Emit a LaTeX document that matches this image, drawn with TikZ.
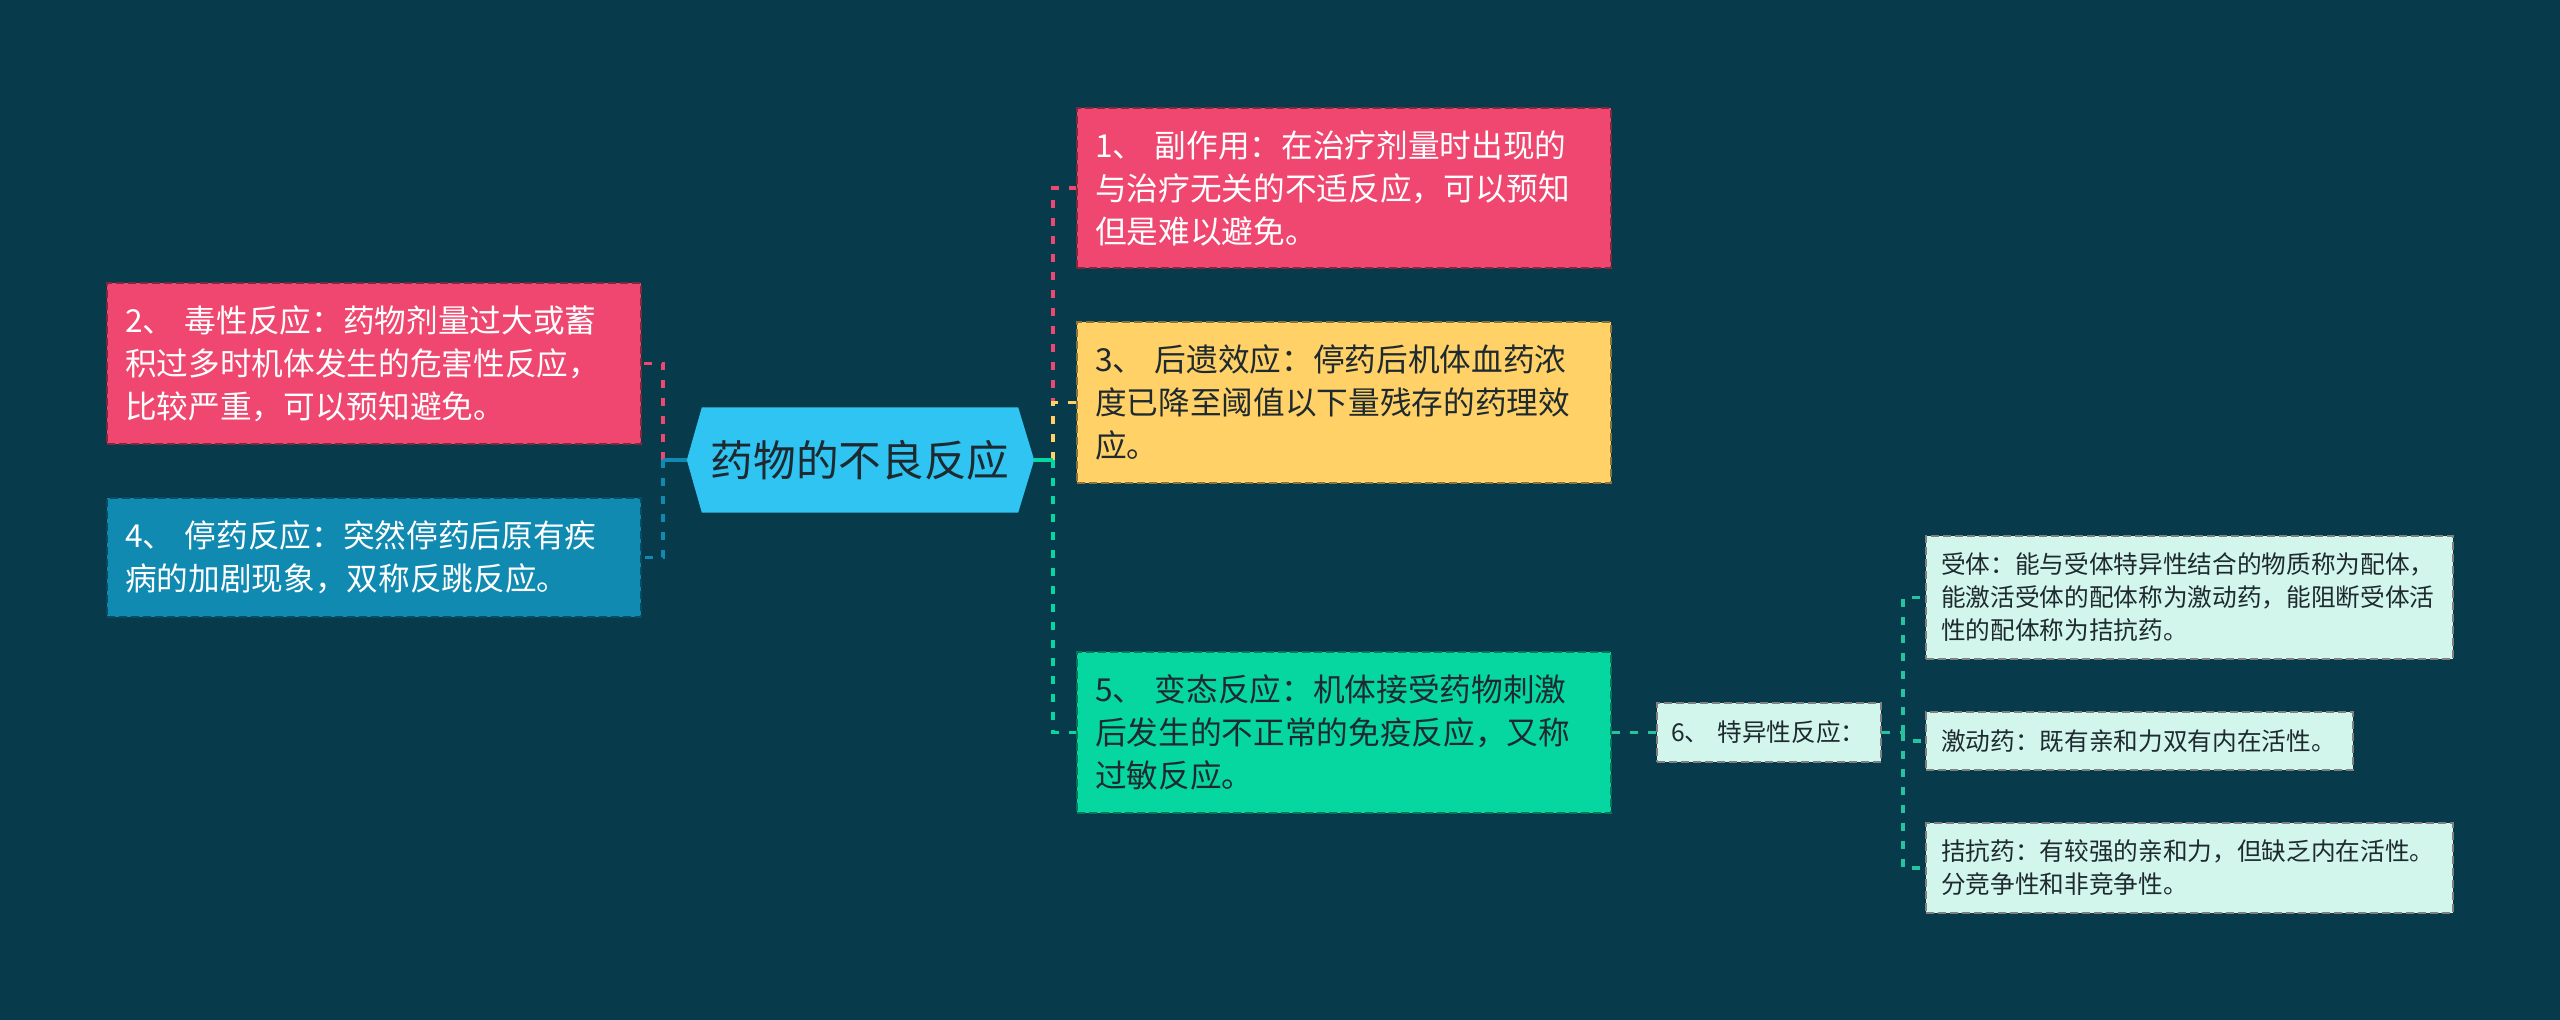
\documentclass[tikz,border=0pt]{standalone}
\usepackage{fontspec}
\setmainfont{Noto Sans CJK SC}
\usetikzlibrary{calc,backgrounds}
\definecolor{bgc}{HTML}{073B4C}
\definecolor{pinkc}{HTML}{EF476F}
\definecolor{yellowc}{HTML}{FFD166}
\definecolor{greenc}{HTML}{06D6A0}
\definecolor{bluec}{HTML}{118AB2}
\definecolor{cyanc}{HTML}{30C4F3}
\definecolor{mintc}{HTML}{D3F6EC}
\definecolor{tealc}{HTML}{27C39E}
\definecolor{darktext}{HTML}{1E2A30}
\begin{document}
\begin{tikzpicture}[x=0.3pt,y=-0.3pt,
  boxbase/.style={rectangle, line width=0.6pt, dash pattern=on 2.4pt off 1.2pt, inner ysep=0pt, align=left, anchor=center},
  bigbox/.style={boxbase, inner xsep=5.4pt, text width=149.4pt, minimum width=160.2pt, font=\fontsize{9.5pt}{12.9pt}\selectfont},
  smallbox/.style={boxbase, inner xsep=4.5pt, fill=mintc, draw=black!50, text=darktext, font=\fontsize{7.4pt}{9.9pt}\selectfont},
  pinkbox/.style={bigbox, fill=pinkc, draw=pinkc!55!black, text=white},
  bluebox/.style={bigbox, fill=bluec, draw=bluec!55!black, text=white},
  yellowbox/.style={bigbox, fill=yellowc, draw=yellowc!55!black, text=darktext},
  greenbox/.style={bigbox, fill=greenc, draw=greenc!55!black, text=darktext},
  conn/.style={line width=1.1pt, dash pattern=on 2.4pt off 3pt},
  solidconn/.style={line width=1.1pt}
]
\useasboundingbox (0,0) rectangle (2560,1020);

% central node
\node[rectangle, inner sep=0pt, minimum width=94.5pt, minimum height=31.2pt, text=darktext,
      font=\fontsize{12.8pt}{14pt}\selectfont] (c) at (860,460) {药物的不良反应};
\coordinate (cl) at ($(c.west)+(-15,0)$);
\coordinate (cr) at ($(c.east)+(16,0)$);

% left boxes
\node[pinkbox, minimum height=48.3pt] (b2) at (374,363.5)
  {2、 毒性反应：药物剂量过大或蓄\\积过多时机体发生的危害性反应，\\比较严重，可以预知避免。};
\node[bluebox, minimum height=35.7pt] (b4) at (374,557.5)
  {4、 停药反应：突然停药后原有疾\\病的加剧现象，双称反跳反应。};

% right boxes
\node[pinkbox, minimum height=48pt] (b1) at (1344,188)
  {1、 副作用：在治疗剂量时出现的\\与治疗无关的不适反应，可以预知\\但是难以避免。};
\node[yellowbox, minimum height=48.3pt] (b3) at (1344,402.5)
  {3、 后遗效应：停药后机体血药浓\\度已降至阈值以下量残存的药理效\\应。};
\node[greenbox, minimum height=48.3pt] (b5) at (1344,732.5)
  {5、 变态反应：机体接受药物刺激\\后发生的不正常的免疫反应，又称\\过敏反应。};

% node 6 and children
\node[smallbox, inner xsep=4.2pt, text width=58.8pt, minimum width=67.2pt, minimum height=17.7pt] (n6) at (1769,732.5)
  {6、 特异性反应：};
\node[smallbox, text width=149.1pt, minimum width=158.1pt, minimum height=36.9pt] (ca) at (2189.5,597.5)
  {受体：能与受体特异性结合的物质称为配体，\\能激活受体的配体称为激动药，能阻断受体活\\性的配体称为拮抗药。};
\node[smallbox, text width=119.1pt, minimum width=128.1pt, minimum height=17.4pt] (cb) at (2139.5,741)
  {激动药：既有亲和力双有内在活性。};
\node[smallbox, text width=149.1pt, minimum width=158.1pt, minimum height=27pt] (cc) at (2189.5,868)
  {拮抗药：有较强的亲和力，但缺乏内在活性。\\分竞争性和非竞争性。};

% junctions
\coordinate (jl) at (663,460);
\coordinate (jr) at (1053,460);
\coordinate (j6) at (1903,732.5);

% connectors left
\draw[conn, pinkc] (jl) |- (b2.east);
\draw[conn, bluec] (jl) |- (b4.east);
\draw[solidconn, bluec] (cl) -- (jl);

% connectors right
\draw[conn, pinkc] (jr) |- (b1.west);
\draw[conn, yellowc] (jr) |- (b3.west);
\draw[conn, greenc] (jr) |- (b5.west);
\draw[solidconn, greenc] (cr) -- (jr);

% connectors node 6
\draw[conn, tealc] (b5.east) -- (n6.west);
\draw[conn, tealc] (n6.east) -- (j6);
\draw[conn, tealc] (j6) |- (ca.west);
\draw[conn, tealc] (j6) |- (cb.west);
\draw[conn, tealc] (j6) |- (cc.west);

\begin{pgfonlayer}{background}
  \fill[bgc] (0,0) rectangle (2560,1020);
  \fill[cyanc] (c.north west) -- (c.north east) -- (cr) -- (c.south east) -- (c.south west) -- (cl) -- cycle;
\end{pgfonlayer}
\end{tikzpicture}
\end{document}
